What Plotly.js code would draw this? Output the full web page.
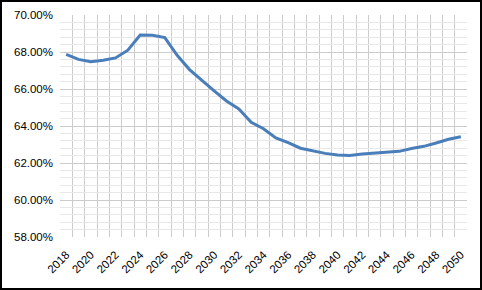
<!DOCTYPE html>
<html>
<head>
<meta charset="utf-8">
<script src="https://cdn.plot.ly/plotly-3.0.1.min.js"></script>
<style>
html,body{margin:0;padding:0;background:#fff;}
#wrap{position:relative;width:482px;height:290px;}
#chart{width:482px;height:290px;}
#frame{position:absolute;left:0;top:0;width:482px;height:290px;box-sizing:border-box;border:2px solid #000;pointer-events:none;}
</style>
</head>
<body>
<div id="wrap"><div id="chart"></div><div id="frame"></div></div>
<script>
const years = [2018,2019,2020,2021,2022,2023,2024,2025,2026,2027,2028,2029,2030,2031,2032,2033,2034,2035,2036,2037,2038,2039,2040,2041,2042,2043,2044,2045,2046,2047,2048,2049,2050];
const values = [67.87,67.6,67.48,67.55,67.68,68.1,68.92,68.9,68.78,67.82,67.05,66.45,65.9,65.35,64.92,64.2,63.85,63.35,63.1,62.8,62.65,62.52,62.43,62.4,62.49,62.54,62.6,62.63,62.78,62.9,63.08,63.28,63.42];
const tickYears = [2018,2020,2022,2024,2026,2028,2030,2032,2034,2036,2038,2040,2042,2044,2046,2048,2050];
const tickFont = {family:'Liberation Sans, Arial, sans-serif', size:11.5, color:'#000'};

Plotly.newPlot('chart', [{
  x: years, y: values, type:'scatter', mode:'lines',
  line:{color:'#4a7ebb', width:3}, hoverinfo:'skip'
}], {
  width:482, height:290,
  margin:{l:60, r:15, t:15, b:53},
  paper_bgcolor:'#fff', plot_bgcolor:'#fff',
  showlegend:false,
  xaxis:{
    type:'linear', range:[2017.5,2050.5], fixedrange:true,
    tickmode:'array', tickvals:tickYears, ticktext:tickYears.map(String),
    tickangle:-45, tickfont:tickFont, showgrid:false, zeroline:false,
    showline:false, ticks:'', ticklabelstandoff:8,
    minor:{tick0:2017.5, dtick:1, showgrid:true, gridcolor:'#cccccc', gridwidth:1, ticks:''}
  },
  yaxis:{
    range:[58,70], dtick:2, tick0:58, fixedrange:true,
    tickformat:'.2f', ticksuffix:'%', tickfont:tickFont, ticklabelstandoff:6,
    showgrid:true, gridcolor:'#cccccc', gridwidth:1, zeroline:false, showline:false, ticks:'',
    minor:{dtick:0.4, tick0:58, showgrid:true, gridcolor:'#e8e8e8', gridwidth:1, ticks:''}
  }
}, {staticPlot:true, displayModeBar:false});
</script>
</body>
</html>
